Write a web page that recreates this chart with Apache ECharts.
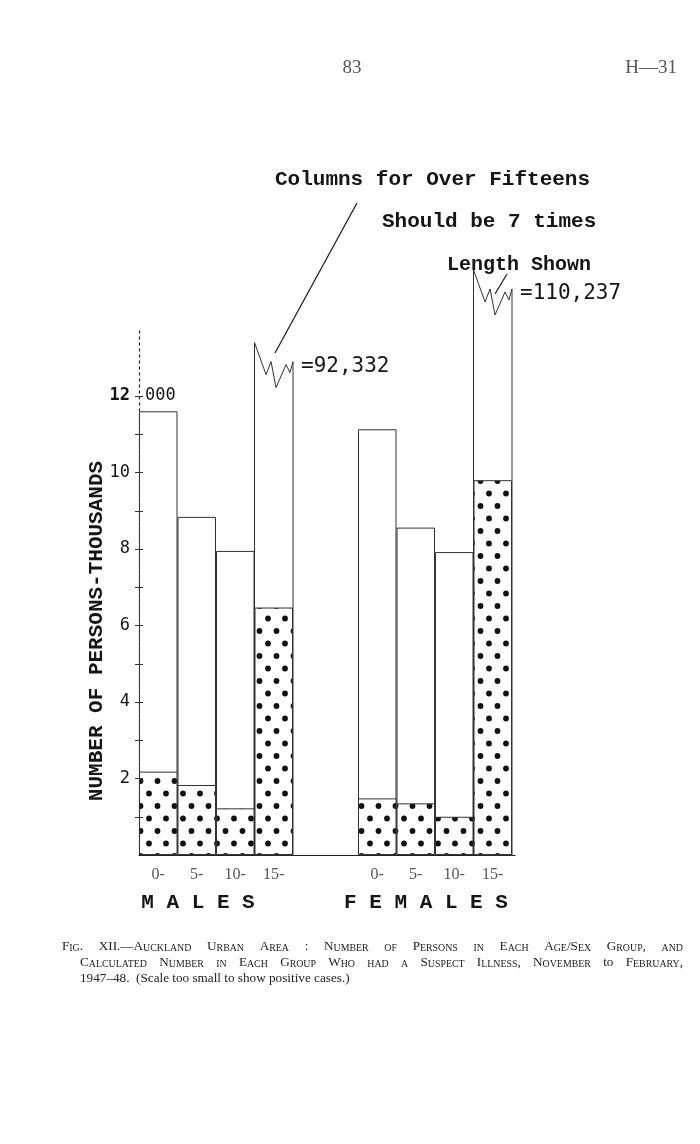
<!DOCTYPE html>
<html><head><meta charset="utf-8">
<script src="https://cdn.jsdelivr.net/npm/echarts@6/dist/echarts.min.js"></script>
<style>html,body{margin:0;padding:0;background:#fff}#c{width:700px;height:1144px}</style>
</head><body><div id="c"></div>
<script>
// ---------- data ----------
const ageGroups = ['0-', '5-', '10-', '15-'];
const maleTotal = [11600, 8840, 7950, 92332];
const maleSuspect = [2180, 1830, 1220, 6470];
const femaleTotal = [11130, 8560, 7920, 110237];
const femaleSuspect = [1480, 1350, 1000, 9800];
// height at which the over-fifteen columns are drawn broken
const maleBrokenShown = 12900;
const femaleBrokenShown = 14800;
const yTickValues = [1000,2000,3000,4000,5000,6000,7000,8000,9000,10000,11000,12000];
const yLabelValues = [2000, 4000, 6000, 8000, 10000, 12000];
const Y_MAX = 13700;

// ---------- styles ----------
const MONO = '"Liberation Mono", "DejaVu Sans Mono", monospace';
const NUMF = '"DejaVu Sans Mono", monospace';
const SERIF = '"Liberation Serif", "DejaVu Serif", serif';
const INK = '#151515';

// dotted pattern
const pc = document.createElement('canvas');
pc.width = 17; pc.height = 25;
const pctx = pc.getContext('2d');
pctx.fillStyle = '#fff'; pctx.fillRect(0, 0, 17, 25);
pctx.fillStyle = '#111';
[[4.5, 6], [13, 18.5]].forEach(p => { pctx.beginPath(); pctx.arc(p[0], p[1], 2.9, 0, Math.PI * 2); pctx.fill(); });
const dotPattern = { image: pc, repeat: 'repeat' };

const chart = echarts.init(document.getElementById('c'), null, { renderer: 'canvas' });

function brokenItem(params, api) {
  const i = api.value(0), shown = api.value(1), total = api.value(2);
  const base = api.coord([i, 0]);
  const top = api.coord([i, shown]);
  const w = api.size([1, 0])[0];
  const x0 = base[0] - w / 2, x1 = base[0] + w / 2, yb = base[1], yt = top[1];
  const zz = [[0, -19], [0.3, 13], [0.43, 0], [0.56, 26], [0.82, 3], [0.92, 11], [1, 0]];
  const pts = [[x0, yb]].concat(zz.map(p => [x0 + p[0] * w, yt + p[1]])).concat([[x1, yb]]);
  return {
    type: 'group',
    children: [
      { type: 'polygon', shape: { points: pts }, style: { fill: '#fff', stroke: '#333', lineWidth: 1 } },
      { type: 'text', x: x1 + 8, y: yt + 5,
        style: { text: '=' + total.toLocaleString('en-US'), font: '21px ' + NUMF, fill: INK,
                 align: 'left', verticalAlign: 'middle', textAlign: 'left', textVerticalAlign: 'middle' } }
    ]
  };
}

function groupSeries(totals, suspect, shown, axisIdx) {
  return [
    { type: 'custom', xAxisIndex: axisIdx, z: 1, clip: false,
      renderItem: brokenItem, encode: { x: 0, y: 1 },
      data: totals.map((v, i) => v > Y_MAX ? [i, shown, v] : null).filter(d => d) },
    { type: 'bar', xAxisIndex: axisIdx, z: 2,
      barCategoryGap: '0%', barGap: '-100%',
      data: totals.map(v => v > Y_MAX ? '-' : v),
      itemStyle: { color: '#fff', borderColor: '#333', borderWidth: 1 } },
    { type: 'bar', xAxisIndex: axisIdx, z: 3,
      barCategoryGap: '0%', barGap: '-100%',
      data: suspect,
      itemStyle: { color: dotPattern, borderColor: '#333', borderWidth: 1 } }
  ];
}

// ---------- caption (small caps, justified) ----------
const mctx = document.createElement('canvas').getContext('2d');
const CF = { b: 13.2, s: 9.9, n: 13.2 };
function fontOf(k) { return CF[k] + 'px ' + SERIF; }
function measure(t, k) { mctx.font = fontOf(k); return mctx.measureText(t).width; }
const RICH = {
  b: { fontSize: CF.b, fontFamily: SERIF, fill: '#222', verticalAlign: 'bottom', lineHeight: 14 },
  s: { fontSize: CF.s, fontFamily: SERIF, fill: '#222', verticalAlign: 'bottom', lineHeight: 14 },
  n: { fontSize: CF.n, fontFamily: SERIF, fill: '#222', verticalAlign: 'bottom', lineHeight: 14 }
};
function wordSegs(w, mode) {
  if (mode === 'n') return [[w, 'n']];
  const segs = [];
  for (const ch of w) {
    const k = (ch >= 'a' && ch <= 'z') ? 's' : 'b';
    const t = k === 's' ? ch.toUpperCase() : ch;
    if (segs.length && segs[segs.length - 1][1] === k) segs[segs.length - 1][0] += t;
    else segs.push([t, k]);
  }
  return segs;
}
function layoutLine(words, x0, x1, y, justify) {
  const segsList = words.map(([w, m]) => wordSegs(w, m));
  const widths = segsList.map(s => s.reduce((a, [t, k]) => a + measure(t, k), 0));
  const total = widths.reduce((a, b) => a + b, 0);
  const gap = justify ? (x1 - x0 - total) / (words.length - 1) : measure(' ', 'n');
  let x = x0;
  return segsList.map((segs, i) => {
    const text = segs.map(([t, k]) => '{' + k + '|' + t + '}').join('');
    const el = { type: 'text', x: x, y: y + 7,
      style: { text: text, rich: RICH,
               align: 'left', verticalAlign: 'bottom', textAlign: 'left', textVerticalAlign: 'bottom' } };
    x += widths[i] + gap;
    return el;
  });
}
const cap1 = ['Fig.', 'XII.—Auckland', 'Urban', 'Area', ':', 'Number', 'of', 'Persons', 'in', 'Each', 'Age/Sex', 'Group,', 'and'].map(w => [w, 'sc']);
const cap2 = ['Calculated', 'Number', 'in', 'Each', 'Group', 'Who', 'had', 'a', 'Suspect', 'Illness,', 'November'].map(w => [w, 'sc'])
  .concat([['to', 'n'], ['February,', 'sc']]);
const cap3 = [['1947–48.', 'n'], [' (Scale', 'n'], ['too', 'n'], ['small', 'n'], ['to', 'n'], ['show', 'n'], ['positive', 'n'], ['cases.)', 'n']];

function txt(text, x, y, font, fill, align, extra) {
  return Object.assign({ type: 'text', x: x, y: y,
    style: { text: text, font: font, fill: fill || INK, align: align || 'left', verticalAlign: 'middle',
             textAlign: align || 'left', textVerticalAlign: 'middle' } }, extra || {});
}

const graphics = [
  txt('83', 352, 68, '19px ' + SERIF, '#555', 'center'),
  txt('H—31', 677, 68, '19px ' + SERIF, '#555', 'right'),
  txt('Columns for Over Fifteens', 275, 180, 'bold 21px ' + MONO),
  txt('Should be 7 times', 382, 222, 'bold 21px ' + MONO),
  txt('Length Shown', 447, 265, 'bold 20px ' + MONO),
  { type: 'line', shape: { x1: 357, y1: 203, x2: 275, y2: 353 }, style: { stroke: INK, lineWidth: 1.2 } },
  { type: 'line', shape: { x1: 507, y1: 274, x2: 495, y2: 294 }, style: { stroke: INK, lineWidth: 1.2 } },
  txt('NUMBER OF PERSONS-THOUSANDS', 97, 631, 'bold 21px ' + MONO, INK, 'center', { rotation: Math.PI / 2 }),
  txt('M A L E S', 198, 903, 'bold 21px ' + MONO, INK, 'center'),
  txt('F E M A L E S', 426, 903, 'bold 21px ' + MONO, INK, 'center')
].concat(layoutLine(cap1, 62, 683, 946, true))
 .concat(layoutLine(cap2, 80, 683, 962, true))
 .concat(layoutLine(cap3, 80, 683, 978, false));

const catAxis = (g) => ({
  gridIndex: g, type: 'category', data: ageGroups,
  axisLine: { show: false }, axisTick: { show: false },
  axisLabel: { margin: 12, fontFamily: SERIF, fontSize: 16, color: '#555' }
});
const hiddenY = (g) => ({ gridIndex: g, type: 'value', min: 0, max: Y_MAX, show: false });

const option = {
  animation: false,
  backgroundColor: '#fff',
  grid: [
    { left: 139, right: 185, top: 331, bottom: 289 },
    { left: 139, width: 154, top: 331, bottom: 289 },
    { left: 358, width: 154, top: 331, bottom: 289 }
  ],
  xAxis: [
    { gridIndex: 0, type: 'value', min: 0, max: 1,
      axisLine: { show: true, lineStyle: { color: '#222', width: 1 } },
      axisTick: { show: false }, axisLabel: { show: false }, splitLine: { show: false } },
    catAxis(1), catAxis(2)
  ],
  yAxis: [
    { gridIndex: 0, type: 'value', position: 'left', min: 0, max: Y_MAX, interval: 1000,
      axisLine: { show: true, lineStyle: { color: '#333', width: 1.3, type: [2, 4] } },
      axisTick: { show: true, length: 4, customValues: yTickValues, lineStyle: { color: '#333' } },
      splitLine: { show: false },
      axisLabel: { customValues: yLabelValues, margin: 9, fontFamily: NUMF, fontSize: 17, color: INK,
        formatter: v => (v % 2000 !== 0 || v === 0 || v > 12000) ? '' : (v === 12000 ? '{b|12}' : String(v / 1000)),
        rich: { b: { fontFamily: NUMF, fontSize: 17, fontWeight: 'bold', color: INK } } } },
    { gridIndex: 0, type: 'value', position: 'left', offset: 0, min: 0, max: Y_MAX, interval: 1000, z: 10,
      axisLine: { show: false },
      axisTick: { show: true, inside: true, length: 4, customValues: yTickValues, lineStyle: { color: '#333' } },
      splitLine: { show: false },
      axisLabel: { inside: true, customValues: [12000], margin: 6, fontFamily: NUMF, fontSize: 17, color: INK,
        formatter: v => v === 12000 ? '000' : '' } },
    hiddenY(1), hiddenY(2)
  ],
  series: [].concat(
    groupSeries(maleTotal, maleSuspect, maleBrokenShown, 1),
    groupSeries(femaleTotal, femaleSuspect, femaleBrokenShown, 2)
  ),
  graphic: graphics
};
// grid1 -> yAxis 2, grid2 -> yAxis 3
option.series.forEach(s => { s.yAxisIndex = s.xAxisIndex + 1; });
chart.setOption(option);
</script></body></html>
